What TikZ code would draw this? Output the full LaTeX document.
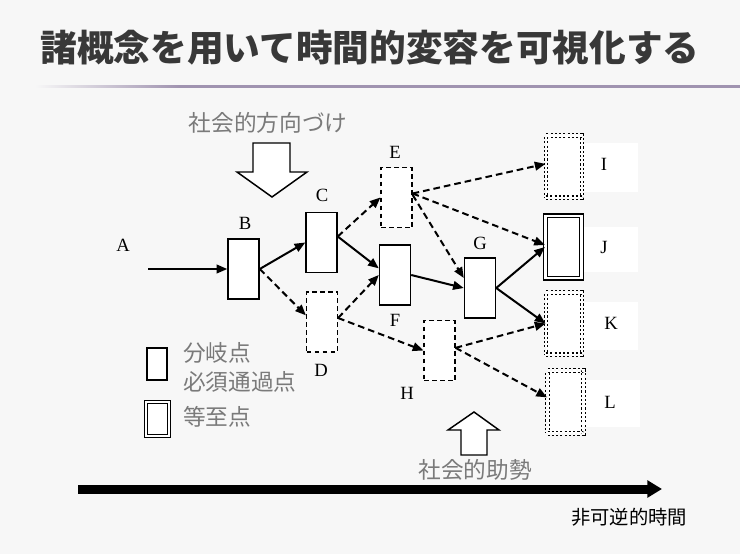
\documentclass[tikz,border=0pt]{standalone}
\usepackage{fontspec}
\setmainfont{Liberation Serif}
\newfontfamily\jp{Noto Sans CJK JP}
\usetikzlibrary{arrows.meta,calc}
\definecolor{bgc}{HTML}{F7F7F7}
\definecolor{titlec}{HTML}{383838}
\definecolor{lblgray}{HTML}{7A7A7A}
\definecolor{rulec}{HTML}{A093B0}
\begin{document}
\begin{tikzpicture}[x=0.75pt,y=-0.75pt,
  box/.style={draw,fill=white,line width=1.1pt,minimum width=23.25pt,minimum height=45pt,inner sep=0pt},
  dbox/.style={box,line width=0.9pt,dash pattern=on 3.5pt off 2.5pt},
  endbox/.style={draw,fill=white,minimum width=27pt,minimum height=47pt,inner sep=0pt},
  eqbox/.style={endbox,double,double distance=1.6pt,line width=0.9pt},
  dotbox/.style={endbox,double,double distance=2pt,line width=0.8pt,dash pattern=on 1.6pt off 1.6pt},
  lbl/.style={font=\fontsize{14}{16}\selectfont,inner sep=0pt},
  jlbl/.style={font=\jp\fontsize{17}{20}\selectfont,text=lblgray,inner sep=0pt},
  conn/.style={line width=1.5pt,-{Triangle[length=8pt,width=6.5pt]}},
  dconn/.style={conn,dash pattern=on 5pt off 3pt},
  blockarrow/.style={draw,fill=white,line width=1.1pt,line join=miter},
  whitebg/.style={fill=white,draw=none}
]
\useasboundingbox (0,0) rectangle (740,554);
\fill[bgc] (0,0) rectangle (740,554);

% title
\node[font=\jp\bfseries\fontsize{27.5}{32}\selectfont,text=titlec,inner sep=0pt] (title) at (370,48) {諸概念を用いて時間的変容を可視化する};
\shade[left color=bgc,right color=rulec] (35,85) rectangle (180,87.5);
\fill[rulec] (180,85) rectangle (740,87.5);

% white label backgrounds
\fill[whitebg] (583,143) rectangle (638,192);
\fill[whitebg] (583,227) rectangle (638,272);
\fill[whitebg] (583,302) rectangle (638,350);
\fill[whitebg] (583,380) rectangle (640,427);

% block arrows
\draw[blockarrow] (253,143) -- (290,143) -- (290,172) -- (307,172) -- (272,197) -- (237,172) -- (253,172) -- cycle;
\draw[blockarrow] (461,455) -- (487,455) -- (487,430) -- (499,430) -- (474,412) -- (448,430) -- (461,430) -- cycle;

\node[jlbl] (soc1) at (268,123) {社会的方向づけ};
\node[jlbl] (soc2) at (475,470) {社会的助勢};

% boxes
\node[box]  (B) at (243.5,269) {};
\node[box]  (C) at (321.5,242.5) {};
\node[dbox] (D) at (322,322) {};
\node[dbox] (E) at (396.5,197.5) {};
\node[box]  (F) at (395,275) {};
\node[box]  (G) at (480,288) {};
\node[dbox] (H) at (439.5,350.5) {};
\node[dotbox] (I) at (564,166.5) {};
\node[eqbox]  (J) at (563.5,247) {};
\node[dotbox] (K) at (564,323.5) {};
\node[dotbox] (L) at (565.5,402) {};

% labels
\node[lbl] (lA) at (123,245) {A};
\node[lbl] (lB) at (245,223) {B};
\node[lbl] (lC) at (322,195) {C};
\node[lbl] (lD) at (321,370) {D};
\node[lbl] (lE) at (395,152) {E};
\node[lbl] (lF) at (395,320) {F};
\node[lbl] (lG) at (480,243) {G};
\node[lbl] (lH) at (407,393) {H};
\node[lbl] (lI) at (604,164) {I};
\node[lbl] (lJ) at (604,247) {J};
\node[lbl] (lK) at (611,323) {K};
\node[lbl] (lL) at (610,402) {L};

% connectors
\coordinate (a0) at (148,269);
\draw[conn] (a0) -- (B.west);
\draw[conn] (B.east) -- (C.west);
\draw[dconn] (B.east) -- ([yshift=5pt]D.west);
\draw[dconn] ([yshift=4.5pt]C.east) -- (E.west);
\draw[conn] ([yshift=4.5pt]C.east) -- ([yshift=5pt]F.west);
\draw[dconn] ([yshift=3pt]D.east) -- (F.west);
\draw[dconn] ([yshift=3pt]D.east) -- (H.west);
\draw[dconn] ([yshift=3pt]E.east) -- ([yshift=2pt]I.west);
\draw[dconn] ([yshift=3pt]E.east) -- ([yshift=1.5pt]J.west);
\draw[dconn] ([yshift=2pt]E.east) -- ([yshift=7.5pt]G.west);
\draw[conn] (F.east) -- (G.west);
\draw[conn] (G.east) -- (J.west);
\draw[conn] (G.east) -- (K.west);
\draw[dconn] ([yshift=2pt]H.east) -- (K.west);
\draw[dconn] ([yshift=2pt]H.east) -- ([yshift=3.5pt]L.west);

% legend
\node[draw,fill=white,line width=1.1pt,minimum width=15pt,minimum height=24pt,inner sep=0pt] (leg1) at (157,364) {};
\node[draw,fill=white,double,double distance=1.6pt,line width=0.9pt,minimum width=17pt,minimum height=25.5pt,inner sep=0pt] (leg2) at (157.5,419) {};
\node[jlbl,anchor=west] (t1) at (183,353) {分岐点};
\node[jlbl,anchor=west] (t2) at (183,382) {必須通過点};
\node[jlbl,anchor=west] (t3) at (183,417) {等至点};

% time arrow
\coordinate (tm0) at (78,489);
\coordinate (tm1) at (662,489);
\draw[line width=6.75pt,-{Triangle[length=11pt,width=12.5pt]}] (tm0) -- (tm1);
\node[font=\jp\fontsize{14.5}{17}\selectfont,inner sep=0pt] (time) at (629,517) {非可逆的時間};
\end{tikzpicture}
\end{document}
